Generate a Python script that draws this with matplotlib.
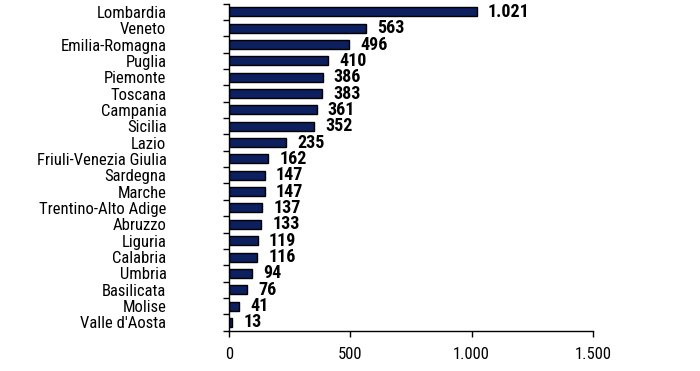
import matplotlib
matplotlib.use("Agg")
import matplotlib.pyplot as plt
from matplotlib.ticker import FixedLocator, FuncFormatter

regions = ["Lombardia", "Veneto", "Emilia-Romagna", "Puglia", "Piemonte", "Toscana",
           "Campania", "Sicilia", "Lazio", "Friuli-Venezia Giulia", "Sardegna", "Marche",
           "Trentino-Alto Adige", "Abruzzo", "Liguria", "Calabria", "Umbria", "Basilicata",
           "Molise", "Valle d'Aosta"]
values = [1021, 563, 496, 410, 386, 383, 361, 352, 235, 162, 147, 147, 137, 133, 119,
          116, 94, 76, 41, 13]
x_ticks = [0, 500, 1000, 1500]

plt.rcParams['font.family'] = ['Liberation Sans Narrow', 'Roboto Condensed',
                               'Archivo Narrow', 'Liberation Sans', 'DejaVu Sans']

def it_fmt(v, pos=None):
    return f"{int(round(v)):,}".replace(",", ".")

fig = plt.figure(figsize=(7.0, 3.71), dpi=100)
ax = fig.add_axes([0.327, 0.109, 0.52, 0.881])

n = len(regions)
ypos = list(range(n))
ax.barh(ypos, values, height=0.55, color='#0c1f5e', edgecolor='black', linewidth=1.0)
ax.set_ylim(n - 0.5, -0.5)
ax.set_xlim(0, 1500)

for y, v in zip(ypos, values):
    ax.annotate(it_fmt(v), xy=(v, y), xytext=(8, 0), textcoords='offset points',
                ha='left', va='center', fontsize=13, fontweight='bold', color='black')

ax.set_yticks(ypos)
ax.set_yticklabels(regions, fontsize=12)
ax.tick_params(axis='y', which='major', length=0, pad=45)
ax.yaxis.set_minor_locator(FixedLocator([i - 0.5 for i in range(n + 1)]))
ax.tick_params(axis='y', which='minor', length=4, width=1, direction='out')

ax.xaxis.set_major_locator(FixedLocator(x_ticks))
ax.xaxis.set_major_formatter(FuncFormatter(it_fmt))
ax.tick_params(axis='x', which='major', length=4, width=1, direction='out', pad=8, labelsize=12)

for s in ['top', 'right']:
    ax.spines[s].set_visible(False)
for s in ['left', 'bottom']:
    ax.spines[s].set_linewidth(1.0)
    ax.spines[s].set_color('black')

fig.savefig("out.png", dpi=100)
